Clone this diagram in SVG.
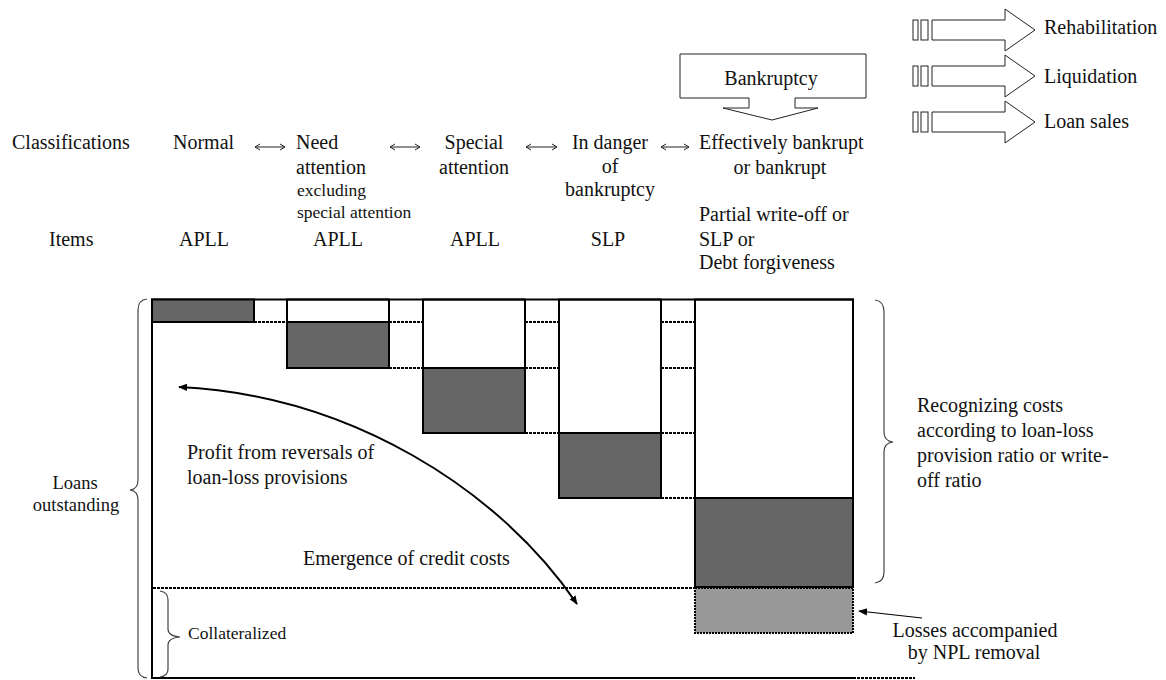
<svg xmlns="http://www.w3.org/2000/svg" width="1166" height="680" viewBox="0 0 1166 680" font-family="'Liberation Serif', serif">
<style>
text{font-family:'Liberation Serif',serif;font-size:20px;fill:#111}
.sm{font-size:17.5px}
.md{font-size:18.5px}
.mid{text-anchor:middle}
.solid{fill:none;stroke:#000;stroke-width:2}
.dark{fill:#666;stroke:#000;stroke-width:2}
.light{fill:#999;stroke:#000;stroke-width:2;stroke-dasharray:2 1}
.dot{fill:none;stroke:#000;stroke-width:2;stroke-dasharray:3 1}
.brace{fill:none;stroke:#444;stroke-width:1.2}
.thin{fill:#fff;stroke:#222;stroke-width:1}
.dbl{fill:none;stroke:#222;stroke-width:1}
</style>
<defs>
<marker id="ah" viewBox="0 0 10 10" refX="9" refY="5" markerWidth="9" markerHeight="9" markerUnits="userSpaceOnUse" orient="auto-start-reverse">
<path d="M0,1 L10,5 L0,9 Z" fill="#000"/>
</marker>
</defs>

<g id="header">
<text x="12" y="149">Classifications</text>
<text x="49" y="246">Items</text>
</g>

<g id="class-normal">
<text x="173" y="149">Normal</text>
<text x="204" y="246" class="mid">APLL</text>
</g>
<g id="class-need-attention">
<text x="296" y="149">Need</text>
<text x="296" y="174">attention</text>
<text x="297" y="196" class="sm">excluding</text>
<text x="297" y="218" class="sm">special attention</text>
<text x="338" y="246" class="mid">APLL</text>
</g>
<g id="class-special-attention">
<text x="474" y="149" class="mid">Special</text>
<text x="474" y="174" class="mid">attention</text>
<text x="475" y="246" class="mid">APLL</text>
</g>
<g id="class-danger">
<text x="610" y="149" class="mid">In danger</text>
<text x="610" y="173" class="mid">of</text>
<text x="610" y="196" class="mid">bankruptcy</text>
<text x="608" y="246" class="mid">SLP</text>
</g>
<g id="class-bankrupt">
<text x="699" y="149">Effectively bankrupt</text>
<text x="780" y="174" class="mid">or bankrupt</text>
<text x="699" y="221">Partial write-off or</text>
<text x="699" y="246">SLP or</text>
<text x="699" y="269">Debt forgiveness</text>
</g>

<g id="bankruptcy">
<path class="thin" d="M680,54 H866 V98 H795 V108 H818 L772,120 L723,108 H749 V98 H680 Z"/>
<text x="771" y="85" class="mid">Bankruptcy</text>
</g>

<g id="rehabilitation">
<rect class="thin" x="913" y="20" width="5" height="20"/>
<rect class="thin" x="921" y="20" width="7" height="20"/>
<path class="thin" d="M932,20 H1005 V9 L1035,30 L1005,51 V40 H932 Z"/>
<text x="1044" y="34">Rehabilitation</text>
</g>
<g id="liquidation">
<rect class="thin" x="913" y="66" width="5" height="20"/>
<rect class="thin" x="921" y="66" width="7" height="20"/>
<path class="thin" d="M932,66 H1005 V55 L1035,76 L1005,97 V86 H932 Z"/>
<text x="1044" y="83">Liquidation</text>
</g>
<g id="loan-sales">
<rect class="thin" x="913" y="112" width="5" height="20"/>
<rect class="thin" x="921" y="112" width="7" height="20"/>
<path class="thin" d="M932,112 H1005 V101 L1035,122 L1005,143 V132 H932 Z"/>
<text x="1044" y="128">Loan sales</text>
</g>

<g id="chart">
<line class="solid" x1="151" y1="299.5" x2="854" y2="299.5"/>
<line class="solid" x1="152" y1="299" x2="152" y2="679"/>
<line class="solid" x1="151" y1="678" x2="853" y2="678"/>
<line class="dot" x1="853" y1="678" x2="915" y2="678"/>
</g>

<g id="col-normal">
<rect class="dark" x="152" y="299.5" width="102" height="22.5"/>
</g>
<g id="col-need">
<rect class="solid" x="287" y="299.5" width="102" height="22.5"/>
<rect class="dark" x="287" y="322" width="102" height="46"/>
</g>
<g id="col-special">
<rect class="solid" x="423" y="299.5" width="102" height="68.5"/>
<rect class="dark" x="423" y="368" width="102" height="65"/>
</g>
<g id="col-danger">
<rect class="solid" x="559" y="299.5" width="102" height="133.5"/>
<rect class="dark" x="559" y="433" width="102" height="65"/>
</g>
<g id="col-bankrupt">
<rect class="solid" x="695" y="299.5" width="158" height="198.5"/>
<rect class="dark" x="695" y="498" width="158" height="89"/>
<rect class="light" x="695" y="588" width="158" height="45"/>
</g>

<g id="connectors">
<line class="dot" x1="254" y1="322" x2="287" y2="322"/>
<line class="dot" x1="389" y1="322" x2="423" y2="322"/>
<line class="dot" x1="525" y1="322" x2="559" y2="322"/>
<line class="dot" x1="661" y1="322" x2="695" y2="322"/>
<line class="dot" x1="389" y1="368" x2="423" y2="368"/>
<line class="dot" x1="525" y1="368" x2="559" y2="368"/>
<line class="dot" x1="661" y1="368" x2="695" y2="368"/>
<line class="dot" x1="525" y1="433" x2="559" y2="433"/>
<line class="dot" x1="661" y1="433" x2="695" y2="433"/>
<line class="dot" x1="661" y1="498" x2="695" y2="498"/>
<line class="dot" x1="153" y1="588" x2="695" y2="588"/>

<path class="dbl" d="M255,147 H285 M260,144 L255,147 L260,150 M280,144 L285,147 L280,150"/>
<path class="dbl" d="M390,147 H420 M395,144 L390,147 L395,150 M415,144 L420,147 L415,150"/>
<path class="dbl" d="M526,147 H557 M531,144 L526,147 L531,150 M552,144 L557,147 L552,150"/>
<path class="dbl" d="M661,147 H689 M666,144 L661,147 L666,150 M684,144 L689,147 L684,150"/>

<path d="M179,387 C350,395 500,490 577,604" fill="none" stroke="#000" stroke-width="2" marker-start="url(#ah)" marker-end="url(#ah)"/>
<line x1="922" y1="618" x2="859" y2="611" stroke="#000" stroke-width="1.2" marker-end="url(#ah)"/>
</g>

<g id="label-profit">
<text x="187" y="459">Profit from reversals of</text>
<text x="187" y="484">loan-loss provisions</text>
</g>
<g id="label-emergence">
<text x="303" y="565">Emergence of credit costs</text>
</g>

<g id="loans-outstanding">
<path class="brace" d="M147,299 Q138,300 138,310 V480 Q138,489 130,490 Q138,491 138,500 V668 Q138,677 147,678"/>
<text x="75" y="489" class="mid md">Loans</text>
<text x="76" y="511" class="mid md">outstanding</text>
</g>
<g id="collateralized">
<path class="brace" d="M160,591 Q168,592 168,600 V629 Q168,636 180,637 Q168,638 168,645 V669 Q168,676 160,677"/>
<text x="188" y="639" class="sm">Collateralized</text>
</g>
<g id="recognizing">
<path class="brace" d="M875,300 Q884,301 884,312 V432 Q884,441 893,442 Q884,443 884,452 V572 Q884,582 875,583"/>
<text x="917" y="412">Recognizing costs</text>
<text x="917" y="437">according to loan-loss</text>
<text x="917" y="462">provision ratio or write-</text>
<text x="917" y="487">off ratio</text>
</g>
<g id="losses">
<text x="975" y="637" class="mid">Losses accompanied</text>
<text x="974" y="659" class="mid">by NPL removal</text>
</g>
</svg>
